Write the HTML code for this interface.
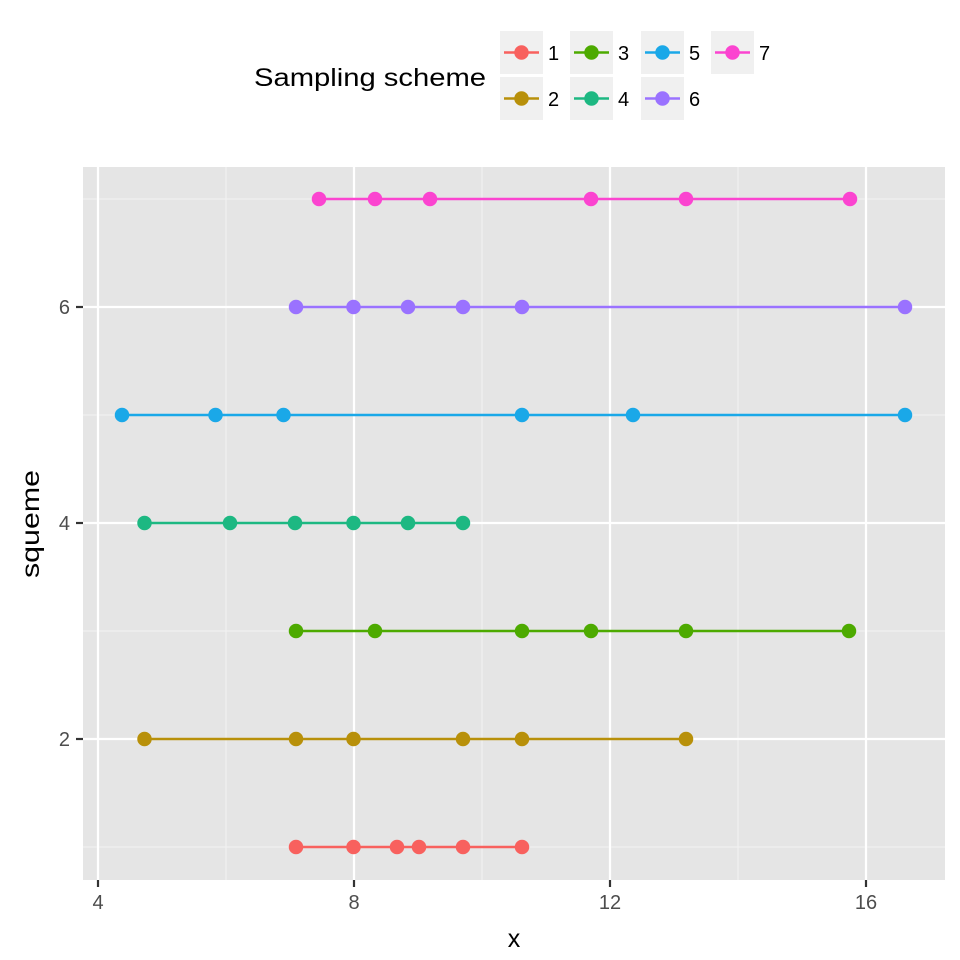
<!DOCTYPE html>
<html><head><meta charset="utf-8"><style>body{margin:0;background:#fff}svg{display:block}</style></head>
<body>
<svg width="960" height="960" xmlns="http://www.w3.org/2000/svg" font-family="Liberation Sans, sans-serif">
<rect x="83" y="167" width="862" height="713" fill="#e5e5e5"/>
<g stroke="#f2f2f2" stroke-width="1.1">
<line x1="226" y1="167" x2="226" y2="880"/><line x1="482" y1="167" x2="482" y2="880"/><line x1="738" y1="167" x2="738" y2="880"/>
<line x1="83" y1="847" x2="945" y2="847"/><line x1="83" y1="631" x2="945" y2="631"/><line x1="83" y1="415" x2="945" y2="415"/><line x1="83" y1="199" x2="945" y2="199"/>
</g>
<g stroke="#fff" stroke-width="2.2">
<line x1="98" y1="167" x2="98" y2="880"/><line x1="354" y1="167" x2="354" y2="880"/><line x1="610" y1="167" x2="610" y2="880"/><line x1="866" y1="167" x2="866" y2="880"/>
<line x1="83" y1="739" x2="945" y2="739"/><line x1="83" y1="523" x2="945" y2="523"/><line x1="83" y1="307" x2="945" y2="307"/>
</g>
<g stroke="#333" stroke-width="2.2">
<line x1="98" y1="880" x2="98" y2="887"/><line x1="354" y1="880" x2="354" y2="887"/><line x1="610" y1="880" x2="610" y2="887"/><line x1="866" y1="880" x2="866" y2="887"/>
<line x1="76" y1="739" x2="83" y2="739"/><line x1="76" y1="523" x2="83" y2="523"/><line x1="76" y1="307" x2="83" y2="307"/>
</g>
<g fill="#4d4d4d" font-size="20" text-anchor="middle">
<text x="98" y="909">4</text><text x="354" y="909">8</text><text x="610" y="909">12</text><text x="866" y="909">16</text>
</g>
<g fill="#4d4d4d" font-size="20" text-anchor="end">
<text x="70" y="746">2</text><text x="70" y="530">4</text><text x="70" y="314">6</text>
</g>
<text x="514" y="947" font-size="25" text-anchor="middle">x</text>
<text transform="translate(39,524) rotate(-90)" font-size="25" text-anchor="middle" textLength="108" lengthAdjust="spacingAndGlyphs">squeme</text>
<g stroke-width="2.5">
<g stroke="#F8615E" fill="#F8615E"><line x1="296" y1="847" x2="522" y2="847"/><circle cx="296" cy="847" r="6"/><circle cx="353.5" cy="847" r="6"/><circle cx="397" cy="847" r="6"/><circle cx="419" cy="847" r="6"/><circle cx="463" cy="847" r="6"/><circle cx="522" cy="847" r="6"/></g>
<g stroke="#B8900A" fill="#B8900A"><line x1="144.5" y1="739" x2="686" y2="739"/><circle cx="144.5" cy="739" r="6"/><circle cx="296" cy="739" r="6"/><circle cx="353.5" cy="739" r="6"/><circle cx="463" cy="739" r="6"/><circle cx="522" cy="739" r="6"/><circle cx="686" cy="739" r="6"/></g>
<g stroke="#4DAA00" fill="#4DAA00"><line x1="296" y1="631" x2="849" y2="631"/><circle cx="296" cy="631" r="6"/><circle cx="375" cy="631" r="6"/><circle cx="522" cy="631" r="6"/><circle cx="591" cy="631" r="6"/><circle cx="686" cy="631" r="6"/><circle cx="849" cy="631" r="6"/></g>
<g stroke="#1DB882" fill="#1DB882"><line x1="144.5" y1="523" x2="463" y2="523"/><circle cx="144.5" cy="523" r="6"/><circle cx="230" cy="523" r="6"/><circle cx="295" cy="523" r="6"/><circle cx="353.5" cy="523" r="6"/><circle cx="408" cy="523" r="6"/><circle cx="463" cy="523" r="6"/></g>
<g stroke="#1AA8E8" fill="#1AA8E8"><line x1="122" y1="415" x2="905" y2="415"/><circle cx="122" cy="415" r="6"/><circle cx="215.5" cy="415" r="6"/><circle cx="283.5" cy="415" r="6"/><circle cx="522" cy="415" r="6"/><circle cx="633" cy="415" r="6"/><circle cx="905" cy="415" r="6"/></g>
<g stroke="#9A72FF" fill="#9A72FF"><line x1="296" y1="307" x2="905" y2="307"/><circle cx="296" cy="307" r="6"/><circle cx="353.5" cy="307" r="6"/><circle cx="408" cy="307" r="6"/><circle cx="463" cy="307" r="6"/><circle cx="522" cy="307" r="6"/><circle cx="905" cy="307" r="6"/></g>
<g stroke="#FB44D0" fill="#FB44D0"><line x1="319" y1="199" x2="850" y2="199"/><circle cx="319" cy="199" r="6"/><circle cx="375" cy="199" r="6"/><circle cx="430" cy="199" r="6"/><circle cx="591" cy="199" r="6"/><circle cx="686" cy="199" r="6"/><circle cx="850" cy="199" r="6"/></g>
</g>
<text x="254" y="86" font-size="25" textLength="232" lengthAdjust="spacingAndGlyphs">Sampling scheme</text>
<g fill="#f0f0f0">
<rect x="500" y="31" width="43" height="43"/><rect x="570" y="31" width="43" height="43"/><rect x="641" y="31" width="43" height="43"/><rect x="711" y="31" width="43" height="43"/>
<rect x="500" y="77" width="43" height="43"/><rect x="570" y="77" width="43" height="43"/><rect x="641" y="77" width="43" height="43"/>
</g>
<g stroke-width="2.5">
<g stroke="#F8615E" fill="#F8615E"><line x1="504" y1="52.5" x2="539" y2="52.5"/><circle cx="521.5" cy="52.5" r="6"/></g>
<g stroke="#4DAA00" fill="#4DAA00"><line x1="574" y1="52.5" x2="609" y2="52.5"/><circle cx="591.5" cy="52.5" r="6"/></g>
<g stroke="#1AA8E8" fill="#1AA8E8"><line x1="645" y1="52.5" x2="680" y2="52.5"/><circle cx="662.5" cy="52.5" r="6"/></g>
<g stroke="#FB44D0" fill="#FB44D0"><line x1="715" y1="52.5" x2="750" y2="52.5"/><circle cx="732.5" cy="52.5" r="6"/></g>
<g stroke="#B8900A" fill="#B8900A"><line x1="504" y1="98.5" x2="539" y2="98.5"/><circle cx="521.5" cy="98.5" r="6"/></g>
<g stroke="#1DB882" fill="#1DB882"><line x1="574" y1="98.5" x2="609" y2="98.5"/><circle cx="591.5" cy="98.5" r="6"/></g>
<g stroke="#9A72FF" fill="#9A72FF"><line x1="645" y1="98.5" x2="680" y2="98.5"/><circle cx="662.5" cy="98.5" r="6"/></g>
</g>
<g font-size="20">
<text x="548" y="60">1</text><text x="618" y="60">3</text><text x="689" y="60">5</text><text x="759" y="60">7</text>
<text x="548" y="106">2</text><text x="618" y="106">4</text><text x="689" y="106">6</text>
</g>
</svg>
</body></html>
